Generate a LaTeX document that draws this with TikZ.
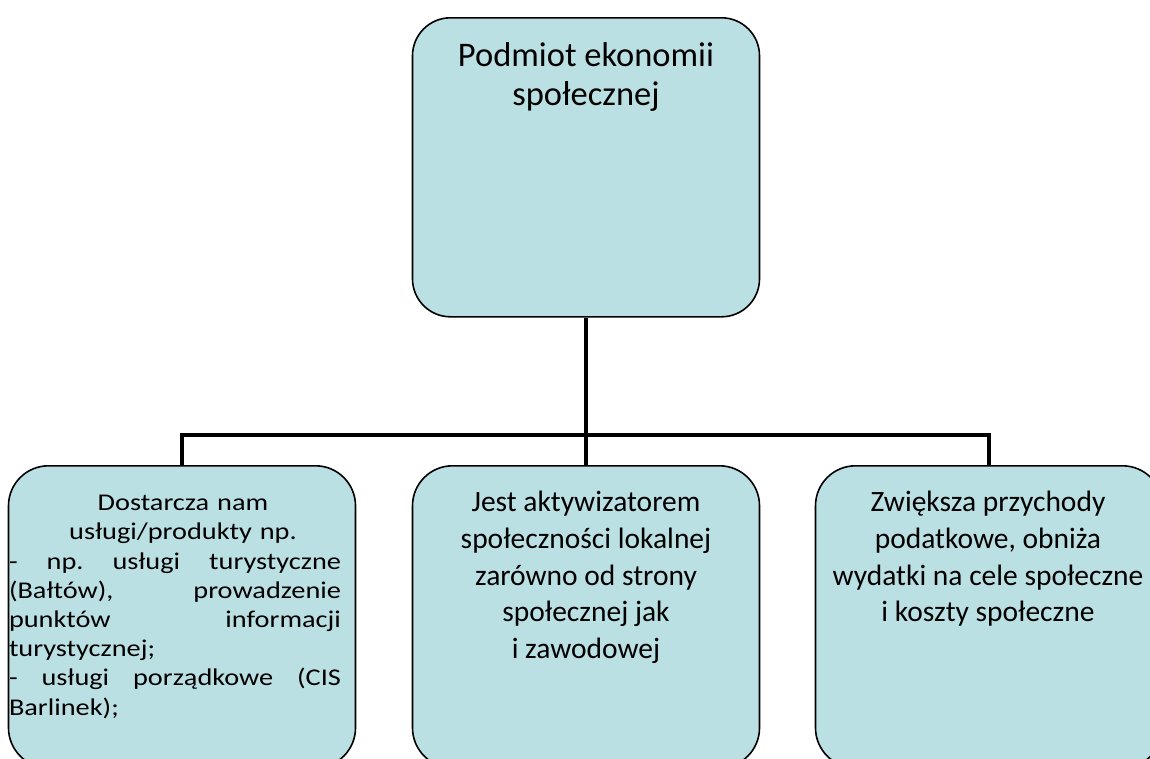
\documentclass[tikz,border=0pt]{standalone}
\usepackage{fontspec}
\setmainfont{Carlito}
\newfontfamily\widefont[FakeStretch=1.18]{Carlito}
\definecolor{boxfill}{RGB}{187,224,227}
\setlength{\parindent}{0pt}
\begin{document}
\begin{tikzpicture}[x=1pt,y=-1pt,
  box/.style={draw=black, line width=1.6pt, fill=boxfill, rounded corners=40pt,
    minimum width=347pt, minimum height=302pt, inner sep=0pt, anchor=north},
  txt/.style={anchor=north, inner sep=0pt, align=center},
  link/.style={line width=4.5pt, draw=black}]
\useasboundingbox (0,0) rectangle (1150,758);
\clip (0,0) rectangle (1150,758);
\node[box, minimum height=299pt, rounded corners=38pt] (top) at (586,17) {};
\node[box] (b1) at (182,465) {};
\node[box] (b2) at (586,465) {};
\node[box] (b3) at (989,465) {};
\coordinate (hub) at (586,435);
\draw[link] (top.south) -- (hub);
\draw[link] (b1.north) |- (hub) -| (b3.north);
\draw[link] (hub) -- (b2.north);
\node[txt, font=\fontsize{34.5}{39}\selectfont] (ttop) at (586,42) {Podmiot ekonomii\\społecznej};
\node[txt, font=\fontsize{29.5}{36.7}\selectfont] (t2) at (586,491) {Jest aktywizatorem\\społeczności lokalnej\\zarówno od strony\\społecznej jak\\i zawodowej};
\node[txt, font=\fontsize{29.5}{36.7}\selectfont] (t3) at (988,491) {Zwiększa przychody\\podatkowe, obniża\\wydatki na cele społeczne\\i koszty społeczne};
\node[anchor=north, inner sep=0pt, text width=348pt, font=\widefont\fontsize{24}{29.2}\selectfont] (t1) at (183,495) {%
\makebox[348pt][c]{Dostarcza nam}\par
\makebox[348pt][c]{usługi/produkty np.}\par
\makebox[332pt][l]{-\hfill np.\hfill usługi\hfill turystyczne}\par
\makebox[332pt][l]{(Bałtów),\hfill prowadzenie}\par
\makebox[332pt][l]{punktów\hfill informacji}\par
\makebox[332pt][l]{turystycznej;\hfill}\par
\makebox[332pt][l]{-\hfill usługi\hfill porządkowe\hfill (CIS}\par
\makebox[332pt][l]{Barlinek);\hfill}};
\end{tikzpicture}
\end{document}
